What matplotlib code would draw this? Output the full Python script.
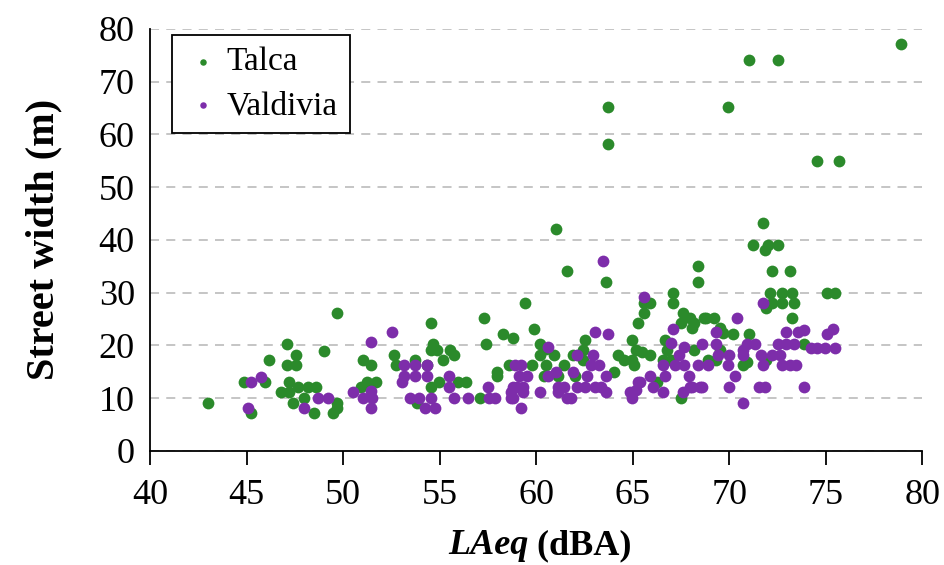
import matplotlib
matplotlib.use("Agg")
import matplotlib.pyplot as plt
from matplotlib.offsetbox import TextArea, HPacker, AnchoredOffsetbox

plt.rcParams['font.family'] = ['Liberation Serif', 'DejaVu Serif']

# Talca: LAeq (dBA), street width (m)
talca_x = [43.0, 44.85, 45.25, 45.96, 46.16, 47.07, 47.58, 47.07, 47.58, 47.17, 46.77, 47.17, 47.68, 48.18,
           48.59, 47.98, 47.38, 48.49, 48.99, 49.7, 49.7, 49.5, 49.7, 51.01, 51.42, 50.91, 51.21, 51.72,
           52.63, 52.73, 53.74, 54.35, 54.65, 54.55, 54.85, 54.55, 54.55, 53.84, 55.16, 55.56, 55.76, 54.95,
           55.96, 56.37, 57.08, 57.28, 57.38, 58.29, 58.79, 57.98, 57.98, 58.59, 59.8, 60.51, 59.4, 59.9,
           60.21, 60.51, 60.21, 60.41, 61.02, 61.62, 63.64, 68.39, 68.39, 67.08, 67.08, 67.58, 67.99, 68.69,
           67.48, 68.09, 65.56, 65.87, 65.56, 65.26, 64.96, 65.16, 65.46, 65.87, 64.25, 64.55, 64.96, 65.06,
           62.53, 62.43, 62.43, 61.92, 60.91, 61.42, 64.05, 66.27, 66.67, 66.77, 66.98, 67.48, 68.19, 61.12,
           62.03, 74.55, 75.67, 71.73, 71.22, 71.83, 72.03, 72.54, 72.23, 73.14, 72.13, 72.74, 73.24, 75.06,
           75.46, 72.23, 72.74, 73.34, 71.93, 73.24, 68.8, 69.2, 68.19, 69.7, 70.21, 71.02, 69.5, 69.3,
           70.72, 71.93, 73.85, 69.5, 68.9, 70.92, 66.57, 71.02, 72.54, 78.9, 63.74, 69.91, 63.74]
talca_y = [9.0, 13.0, 7.2, 13.0, 17.2, 20.2, 18.1, 16.2, 16.2, 13.0, 11.1, 11.1, 12.1, 12.1,
           12.1, 10.0, 9.0, 7.2, 19.0, 9.0, 8.2, 7.2, 26.2, 17.2, 16.2, 12.1, 13.0, 13.0,
           18.1, 16.2, 17.2, 16.2, 20.2, 19.2, 19.2, 24.3, 12.1, 9.0, 17.2, 19.2, 18.1, 13.0,
           13.0, 13.0, 10.0, 25.2, 20.2, 22.1, 21.3, 15.0, 14.1, 16.2, 16.2, 16.2, 28.1, 23.1,
           20.2, 19.3, 18.1, 14.1, 42.1, 34.1, 32.0, 35.1, 32.0, 30.0, 28.1, 26.2, 25.2, 25.2,
           24.3, 23.3, 28.1, 28.1, 26.2, 24.3, 21.0, 19.2, 18.8, 18.1, 18.1, 17.2, 17.2, 16.2,
           21.0, 19.2, 17.2, 18.1, 18.1, 16.2, 15.0, 13.0, 21.0, 19.2, 17.2, 10.0, 19.2, 14.1,
           14.1, 55.0, 55.0, 43.2, 39.1, 38.1, 39.1, 39.1, 34.1, 34.1, 30.0, 30.0, 30.0, 30.0,
           30.0, 28.1, 28.1, 28.1, 27.1, 25.2, 25.2, 25.2, 24.3, 22.4, 22.1, 22.1, 19.2, 17.2,
           16.2, 17.2, 20.2, 23.3, 17.2, 16.9, 17.3, 74.1, 74.1, 77.2, 65.2, 65.2, 58.2]

# Valdivia
valdivia_x = [45.25, 45.76, 45.05, 47.98, 48.69, 49.19, 52.53, 51.42, 50.51, 51.01, 51.52, 51.42, 51.42,
              53.13, 53.74, 54.35, 53.13, 53.74, 54.35, 53.03, 53.44, 53.94, 54.55, 54.25, 54.75, 55.46,
              55.46, 55.76, 56.47, 57.48, 57.58, 57.88, 58.79, 58.99, 59.3, 58.79, 58.89, 59.2, 59.09,
              59.5, 59.2, 59.3, 60.21, 60.61, 60.61, 63.44, 65.56, 63.04, 63.74, 67.08, 66.98, 67.68,
              68.59, 62.13, 62.94, 61.02, 61.92, 62.83, 63.24, 66.57, 67.18, 67.68, 68.39, 66.67, 67.89,
              62.63, 63.64, 65.87, 65.26, 65.16, 64.85, 64.96, 62.13, 62.53, 63.04, 63.34, 61.12, 61.42,
              63.64, 66.07, 66.57, 67.58, 67.99, 68.49, 61.62, 61.82, 58.69, 58.69, 61.12, 71.73, 70.41,
              69.3, 72.94, 73.54, 73.85, 75.06, 75.36, 69.3, 70.92, 71.33, 72.54, 72.94, 73.34, 74.25,
              74.55, 74.95, 75.46, 69.4, 70.01, 70.72, 71.63, 72.23, 72.64, 68.9, 69.91, 71.73, 72.74,
              73.14, 73.44, 70.31, 68.09, 68.59, 70.01, 71.53, 71.83, 73.85, 70.72, 65.36, 67.38, 70.72]
valdivia_y = [13.0, 14.0, 8.2, 8.2, 10.0, 10.0, 22.6, 20.7, 11.1, 10.0, 10.0, 11.4, 8.2,
              16.2, 16.2, 16.2, 14.1, 14.1, 14.1, 13.0, 10.0, 10.0, 10.0, 8.2, 8.2, 14.1,
              12.1, 10.0, 10.0, 12.1, 10.0, 10.0, 12.1, 12.1, 12.1, 10.0, 16.2, 16.2, 14.1,
              14.1, 8.2, 11.1, 11.1, 14.1, 19.7, 36.0, 29.2, 22.6, 22.1, 23.1, 20.5, 19.7,
              20.2, 18.1, 18.1, 15.0, 15.0, 16.2, 16.2, 16.2, 16.2, 16.2, 16.2, 14.1, 14.1,
              14.1, 14.1, 14.1, 13.0, 11.6, 11.1, 10.0, 12.1, 12.1, 12.1, 12.1, 12.1, 12.1,
              11.1, 12.1, 11.1, 11.1, 12.1, 12.1, 10.0, 10.0, 11.1, 10.0, 11.1, 28.1, 25.2,
              22.6, 22.6, 22.6, 22.9, 22.1, 23.1, 20.2, 20.2, 20.2, 20.2, 20.2, 20.2, 19.5,
              19.5, 19.5, 19.5, 18.1, 18.1, 19.2, 18.1, 18.1, 18.1, 16.2, 16.2, 16.2, 16.2,
              16.2, 16.2, 14.1, 12.1, 12.1, 12.1, 12.1, 12.1, 12.1, 9.0, 13.0, 18.1, 18.1]

green = '#2b8a2b'
purple = '#7d2daa'

fig = plt.figure(figsize=(9.44, 5.65), dpi=100)
ax = fig.add_axes([0.159, 0.202, 0.818, 0.747])

ax.scatter(talca_x, talca_y, s=72, color=green, label='Talca', zorder=3, linewidths=0)
ax.scatter(valdivia_x, valdivia_y, s=72, color=purple, label='Valdivia', zorder=3, linewidths=0)

ax.set_xlim(40, 80)
ax.set_ylim(0, 80)
ax.set_xticks(range(40, 81, 5))
ax.set_yticks(range(0, 81, 10))
ax.yaxis.grid(True, linestyle=(0, (5, 4)), color='#c0c0c0', linewidth=1.3)
ax.set_axisbelow(True)
for s in ['top', 'right']:
    ax.spines[s].set_visible(False)
for s in ['left', 'bottom']:
    ax.spines[s].set_linewidth(1.3)
ax.tick_params(axis='x', direction='out', length=10, width=1.3, labelsize=26, pad=10)
ax.tick_params(axis='y', length=0, labelsize=26, pad=11)

ax.set_ylabel('Street width (m)', fontsize=29, fontweight='bold', labelpad=26)

# x label: italic bold "LAeq" + bold "(dBA)"
t1 = TextArea('LAeq', textprops=dict(fontsize=26, fontweight='bold', fontstyle='italic'))
t2 = TextArea(' (dBA)', textprops=dict(fontsize=26, fontweight='bold'))
box = HPacker(children=[t1, t2], align='baseline', pad=0, sep=0)
anch = AnchoredOffsetbox(loc='center', child=box, frameon=False,
                         bbox_to_anchor=(0.505, -0.225), bbox_transform=ax.transAxes, pad=0)
ax.add_artist(anch)

leg = ax.legend(loc='upper left', bbox_to_anchor=(0.028, 0.985), borderaxespad=0, fontsize=24,
                markerscale=0.55, handletextpad=0.1, borderpad=0.35, labelspacing=0.4,
                fancybox=False, edgecolor='black', framealpha=1, handlelength=1.2)
leg.get_frame().set_linewidth(1.3)

fig.savefig('out.png', dpi=100)
